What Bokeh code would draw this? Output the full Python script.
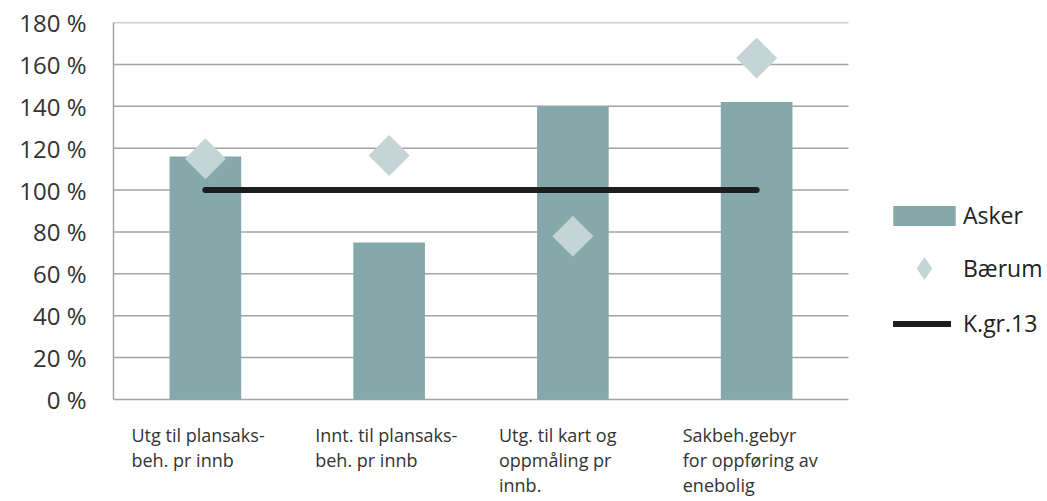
from bokeh.plotting import figure
from bokeh.models import ColumnDataSource, Legend, LegendItem, Label, FixedTicker, Range1d
from bokeh.embed import file_html
from bokeh.resources import INLINE
import math

categories = [
    "Utg til plansaks-\nbeh. pr innb",
    "Innt. til plansaks-\nbeh. pr innb",
    "Utg. til kart og\noppmåling pr\ninnb.",
    "Sakbeh.gebyr\nfor oppføring av\nenebolig",
]
asker = [116, 75, 140, 142]
baerum = [115, 116.5, 78, 163]
kgr13 = [100, 100, 100, 100]
y_ticks = [0, 20, 40, 60, 80, 100, 120, 140, 160, 180]
y_tick_labels = [f"{t} %" for t in y_ticks]

FONT = "Open Sans"
TXT = "#333333"
GRID = "#a3a3a3"

n = len(categories)
centers = [i + 0.5 for i in range(n)]
src = ColumnDataSource(dict(x=centers, asker=asker, baerum=baerum, kgr=kgr13))
grid_src = ColumnDataSource(dict(x0=[0] * len(y_ticks), x1=[n] * len(y_ticks), y=y_ticks))

# frame spans to the right/bottom canvas edges so that legend and category labels sit inside it
p = figure(width=1047, height=501, output_backend="svg", toolbar_location=None,
           x_range=Range1d(0, n * 934 / 735), y_range=Range1d(-180 * 102 / 377, 180),
           x_axis_location=None,
           min_border_left=113, min_border_right=0, min_border_top=22, min_border_bottom=0)
p.outline_line_color = None
p.xgrid.visible = False
p.ygrid.visible = False

p.yaxis.ticker = FixedTicker(ticks=y_ticks)
p.yaxis.bounds = (0, 180)
p.yaxis.major_label_overrides = {t: l for t, l in zip(y_ticks, y_tick_labels)}
p.yaxis.major_label_text_font = FONT
p.yaxis.major_label_text_font_size = "24px"
p.yaxis.major_label_text_color = TXT
p.yaxis.major_label_standoff = 21
p.yaxis.major_tick_line_color = None
p.yaxis.minor_tick_line_color = None
p.yaxis.axis_line_color = GRID
p.yaxis.axis_line_width = 1.5

# horizontal grid lines (and the 0 baseline), limited to the category area
p.segment(x0="x0", x1="x1", y0="y", y1="y", source=grid_src, line_color=GRID, line_width=1.5)

r_bar = p.vbar(x="x", top="asker", width=0.39, source=src, fill_color="#85a8aa", line_color=None)
r_line = p.line(x="x", y="kgr", source=src, line_color="#1e1e1e", line_width=6, line_cap="round")
r_dia = p.scatter(x="x", y="baerum", source=src, marker="square", angle=math.pi / 4, size=29,
                  fill_color="#c5d4d5", line_color=None)
# same points as diamond marker, only used as the legend key shape
r_dia_key = p.scatter(x="x", y="baerum", source=src, marker="diamond", size=29,
                      fill_color="#c5d4d5", line_color=None, visible=False)

for i, cat in enumerate(categories):
    p.add_layout(Label(x=i, y=0, x_offset=18, y_offset=-23, text=cat, text_font=FONT,
                       text_font_size="18px", text_color=TXT, text_baseline="top",
                       text_align="left", text_line_height=1.05))

def mk_legend(label, r, gw, gh, standoff, loc):
    lg = Legend(items=[LegendItem(label=label, renderers=[r])], location=loc,
                glyph_width=gw, glyph_height=gh, label_standoff=standoff,
                label_text_font=FONT, label_text_font_size="23px", label_text_color="#222222",
                padding=0, margin=0, spacing=0, border_line_color=None,
                background_fill_alpha=0, label_height=20, inactive_fill_alpha=0)
    p.add_layout(lg)

mk_legend("Asker", r_bar, 78, 25, 0, (772, 270))
mk_legend("Bærum", r_dia_key, 78, 58, 0, (772, 204))
mk_legend("K.gr.13", r_line, 58, 25, 12, (780, 162))

open("out.html", "w").write(file_html(p, INLINE))
